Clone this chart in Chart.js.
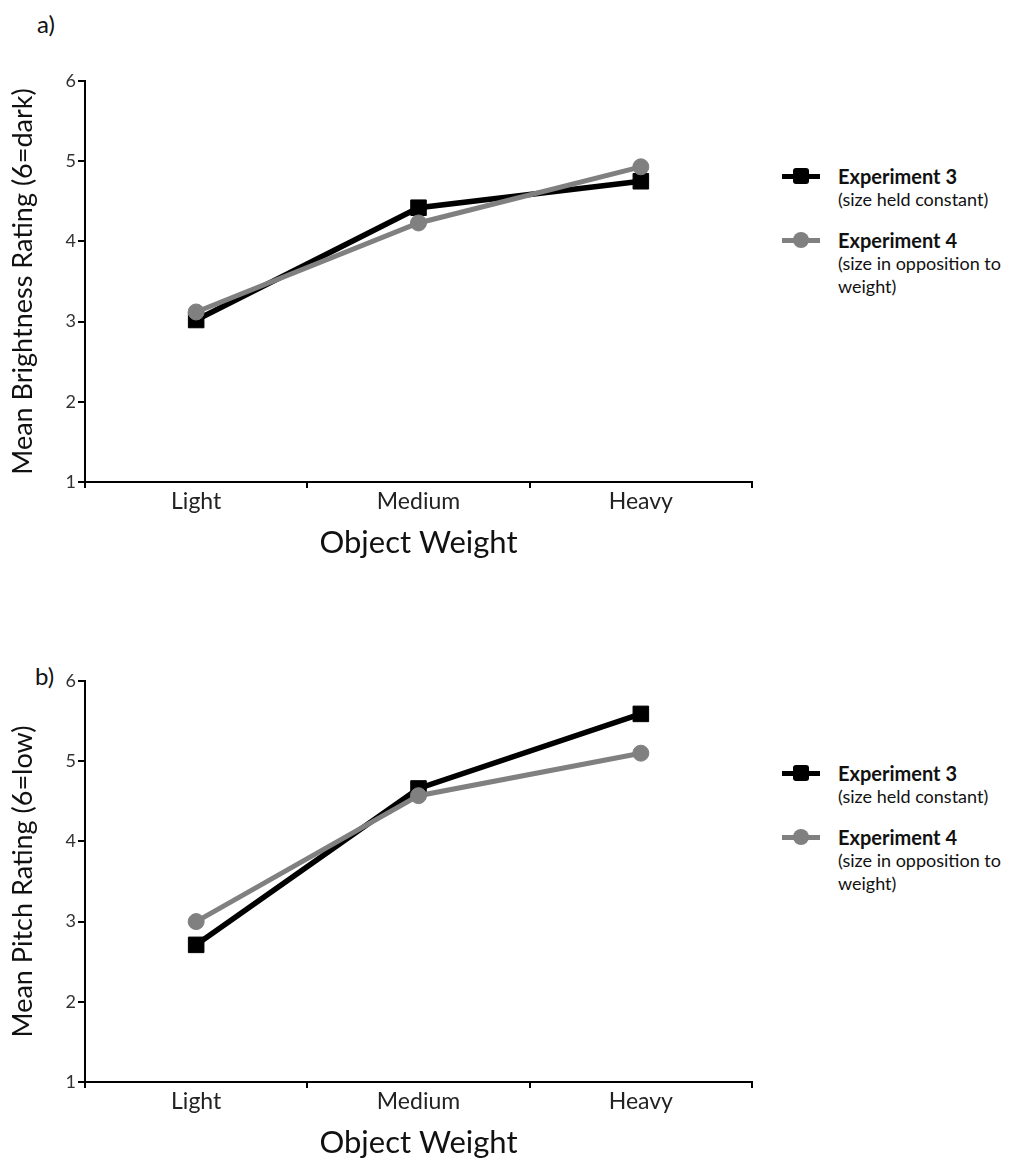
<!DOCTYPE html>
<html>
<head>
<meta charset="utf-8">
<script src="https://cdn.jsdelivr.net/npm/chart.js@4/dist/chart.umd.min.js"></script>
<style>
	html, body { margin:0; background:#fff; font-family:Lato, sans-serif; overflow:hidden; }
	#page { position:relative; width:1010px; height:1162px; overflow:hidden; }
	.box { position:absolute; left:0; width:780px; height:570px; }
	.panel { position:absolute; font-size:24px; line-height:24px; color:#111; }
	.legend { position:absolute; left:782px; width:228px; color:#111; }
	.item { position:relative; padding-left:56px; margin-bottom:17px; }
	.item b { display:block; font-size:20px; line-height:24px; }
	.item span { display:block; font-size:18px; line-height:23px; }
	.swatch { position:absolute; left:0; top:10px; width:38px; height:5px; }
	.swatch i { position:absolute; left:11px; top:-6px; width:16px; height:16px; }
</style>
</head>
<body>
<div id="page">
	<div class="panel" style="left:37px;top:12px;">a)</div>
	<div class="box" style="top:0;"><canvas id="chartA"></canvas></div>
	<div class="legend" style="top:164px;" id="legendA"></div>

	<div class="panel" style="left:35px;top:664px;">b)</div>
	<div class="box" style="top:592px;"><canvas id="chartB"></canvas></div>
	<div class="legend" style="top:761px;" id="legendB"></div>
</div>
<script>
var categories = ['Light', 'Medium', 'Heavy'];
var yTicks = [1, 2, 3, 4, 5, 6];

// panel a) brightness
var brightnessExp3 = [3.02, 4.42, 4.75];
var brightnessExp4 = [3.12, 4.23, 4.93];

// panel b) pitch
var pitchExp3 = [2.71, 4.66, 5.59];
var pitchExp4 = [3.0, 4.57, 5.1];

var seriesNames = ['Experiment 3', 'Experiment 4'];
var seriesNotes = [['(size held constant)'], ['(size in opposition to', 'weight)']];

var black = '#000000';
var grey = '#808080';

var boxHeight = 570;
var plotHeight = 401;

var makeChart = function(id, yTitle, exp3, exp4, padTop)
{
	var xHeight = boxHeight - padTop - plotHeight;
	var titleSize = 31;
	var titlePad = xHeight - 61 - titleSize * 1.2 / 2;

	var datasets = [
		{
			label: seriesNames[0], data: exp3, order: 1,
			borderColor: black, backgroundColor: black, borderWidth: 5.5,
			pointStyle: 'rect', pointRadius: 11, pointHoverRadius: 11,
			pointBackgroundColor: black, pointBorderColor: black, pointBorderWidth: 1
		},
		{
			label: seriesNames[1], data: exp4, order: 0,
			borderColor: grey, backgroundColor: grey, borderWidth: 5,
			pointStyle: 'circle', pointRadius: 8, pointHoverRadius: 8,
			pointBackgroundColor: grey, pointBorderColor: grey, pointBorderWidth: 1
		}
	];

	return new Chart(document.getElementById(id), {
		type: 'line',
		data: { labels: categories, datasets: datasets },
		options: {
			responsive: true,
			maintainAspectRatio: false,
			animation: false,
			layout: { padding: { top: padTop, right: 28, left: 0, bottom: 0 } },
			plugins: { legend: { display: false }, tooltip: { enabled: false } },
			scales: {
				x: {
					type: 'category',
					offset: true,
					afterFit: function(scale) { scale.height = xHeight; },
					border: { display: true, color: black, width: 2 },
					grid: { offset: true, drawOnChartArea: false, drawTicks: true, tickLength: 6, color: black, lineWidth: 2 },
					ticks: { color: '#222', padding: 0, font: { family: 'Lato', size: 23 } },
					title: {
						display: true, text: 'Object Weight', color: '#111',
						font: { family: 'Lato', size: titleSize }, padding: { top: 0, bottom: titlePad }
					}
				},
				y: {
					min: 1, max: 6,
					afterFit: function(scale) { scale.width = 85; },
					afterBuildTicks: function(scale) { scale.ticks = yTicks.map(function(v) { return { value: v }; }); },
					border: { display: true, color: black, width: 2 },
					grid: { drawOnChartArea: false, drawTicks: true, tickLength: 7, color: black, lineWidth: 2 },
					ticks: { color: '#333', padding: 2, font: { family: 'Lato', size: 18 } },
					title: {
						display: true, text: yTitle, color: '#111',
						font: { family: 'Lato', size: 27 }, padding: { top: 7, bottom: 0 }
					}
				}
			}
		}
	});
};

var makeLegend = function(id)
{
	var box = document.getElementById(id);
	var colors = [black, grey];
	for (var i = 0; i < seriesNames.length; i++)
	{
		var item = document.createElement('div');
		item.className = 'item';
		var marker = '<div class="swatch" style="background:' + colors[i] + '"><i style="background:' + colors[i] +
			';border-radius:' + (i == 0 ? '3px' : '50%') + '"></i></div>';
		var html = marker + '<b>' + seriesNames[i] + '</b>';
		seriesNotes[i].forEach(function(line) { html += '<span>' + line + '</span>'; });
		item.innerHTML = html;
		box.appendChild(item);
	}
};

makeChart('chartA', 'Mean Brightness Rating (6=dark)', brightnessExp3, brightnessExp4, 81);
makeChart('chartB', 'Mean Pitch Rating (6=low)', pitchExp3, pitchExp4, 89);
makeLegend('legendA');
makeLegend('legendB');
</script>
</body>
</html>
